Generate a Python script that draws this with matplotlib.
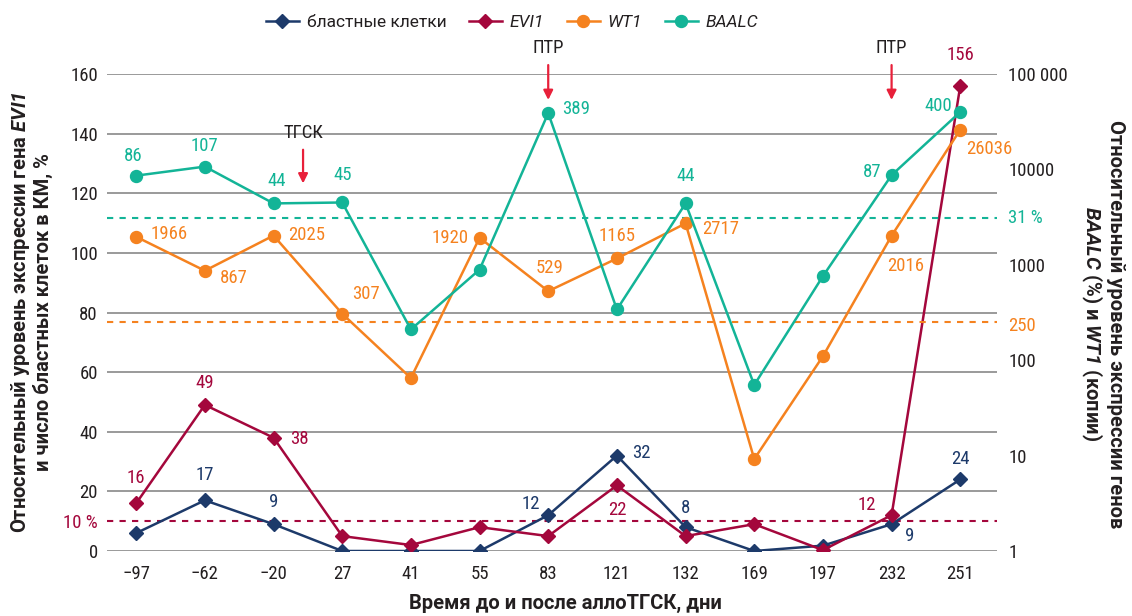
import matplotlib
matplotlib.use("Agg")
import matplotlib.pyplot as plt
from matplotlib import font_manager
from matplotlib.lines import Line2D

# ---- data -------------------------------------------------------------
days = ["\u221297", "\u221262", "\u221220", "27", "41", "55", "83", "121",
        "132", "169", "197", "232", "251"]
blasts = [6, 17, 9, 0, 0, 0, 12, 32, 8, 0, 1.8, 9, 24]
evi1 = [16, 49, 38, 5, 2, 8, 5, 22, 5, 9, 0.3, 12, 156]
wt1 = [1966, 867, 2025, 307, 65, 1920, 529, 1165, 2717, 9.2, 110, 2016, 26036]
baalc = [86, 107, 44, 45, 2.1, 8.9, 389, 3.4, 44, 0.55, 7.6, 87, 400]

evi1_threshold = 10
wt1_threshold = 250
baalc_threshold = 31

left_ticks = [0, 20, 40, 60, 80, 100, 120, 140, 160]
right_ticks = [1, 10, 100, 1000, 10000, 100000]
right_tick_labels = ["1", "10", "100", "1000", "10000", "100 000"]

# BAALC (%) is drawn on the copies axis scaled by 100
BAALC_SCALE = 100

# ---- style ------------------------------------------------------------
C_BLAST = "#1d3a6a"
C_EVI1 = "#a4073c"
C_WT1 = "#f5821f"
C_BAALC = "#13b497"
C_ARROW = "#e8203a"
C_TEXT = "#231f20"
C_GRID = "#7f7f7f"

available = {f.name for f in font_manager.fontManager.ttflist}
TEXT_FONT = next((f for f in ["Roboto", "Liberation Sans"] if f in available), "DejaVu Sans")
NUM_FONT = next((f for f in ["Roboto Condensed", "Liberation Sans Narrow", "Roboto"]
                 if f in available), TEXT_FONT)
plt.rcParams["font.family"] = [NUM_FONT, "DejaVu Sans"]
plt.rcParams["mathtext.fontset"] = "custom"
plt.rcParams["mathtext.rm"] = TEXT_FONT
plt.rcParams["mathtext.it"] = f"{TEXT_FONT}:italic"
plt.rcParams["mathtext.bf"] = f"{TEXT_FONT}:bold"
try:
    plt.rcParams["mathtext.bfit"] = f"{TEXT_FONT}:italic:bold"
except KeyError:
    pass

FS = 13.5          # numbers and annotations
FS_TITLE = 14.5    # bold axis titles
FS_LEG = 12.5

fig = plt.figure(figsize=(11.32, 6.16), dpi=100)
ax = fig.add_axes([107 / 1132, 1 - 551 / 616, 890 / 1132, 477 / 616])
ax2 = ax.twinx()

x = list(range(len(days)))

ax.set_xlim(-0.425, len(days) - 1 + 0.535)
ax.set_ylim(0, 160)
ax2.set_yscale("log")
ax2.set_ylim(1, 1e5)

for a in (ax, ax2):
    for s in a.spines.values():
        s.set_visible(False)

for t in left_ticks:
    ax.axhline(t, color=C_GRID, lw=1.1, zorder=0)

ax.set_yticks(left_ticks)
ax.set_xticks(x)
ax.set_xticklabels(days)
ax.tick_params(axis="both", length=0, labelsize=FS, colors=C_TEXT, pad=10)
ax.tick_params(axis="y", pad=6.5)
ax2.set_yticks(right_ticks)
ax2.set_yticklabels(right_tick_labels)
ax2.yaxis.set_minor_locator(matplotlib.ticker.NullLocator())
ax2.tick_params(axis="y", length=0, labelsize=FS, colors=C_TEXT, pad=8)

# thresholds
ax.axhline(evi1_threshold, color=C_EVI1, lw=1.5, ls=(0, (3, 3)), zorder=1)
ax2.axhline(wt1_threshold, color=C_WT1, lw=1.5, ls=(0, (3, 3)), zorder=1)
ax2.axhline(baalc_threshold * BAALC_SCALE, color=C_BAALC, lw=1.5, ls=(0, (3, 3)), zorder=1)

# series
lw = 1.8
ax.plot(x, blasts, color=C_BLAST, lw=lw, marker="D", ms=6.8, zorder=3)
ax.plot(x, evi1, color=C_EVI1, lw=lw, marker="D", ms=6.8, zorder=4)
baalc_plot = [v * BAALC_SCALE for v in baalc]
ax2.plot(x, wt1, color=C_WT1, lw=lw, marker="o", ms=8.6, zorder=3)
ax2.plot(x, baalc_plot, color=C_BAALC, lw=lw, marker="o", ms=8.6, zorder=4)


def lab(axis, i, val, text, color, dx, dy, ha="center"):
    axis.annotate(text, (i, val), xytext=(dx, dy), textcoords="offset points",
                  ha=ha, va="center", color=color, fontsize=FS, zorder=6)


# BAALC labels
lab(ax2, 0, baalc_plot[0], "86", C_BAALC, -2, 14.5)
lab(ax2, 1, baalc_plot[1], "107", C_BAALC, 0, 14.5)
lab(ax2, 2, baalc_plot[2], "44", C_BAALC, 2, 16)
lab(ax2, 3, baalc_plot[3], "45", C_BAALC, 0, 20)
lab(ax2, 6, baalc_plot[6], "389", C_BAALC, 10, 3, ha="left")
lab(ax2, 8, baalc_plot[8], "44", C_BAALC, 0, 20)
lab(ax2, 11, baalc_plot[11], "87", C_BAALC, -7.5, 2.5, ha="right")
lab(ax2, 12, baalc_plot[12], "400", C_BAALC, -6, 4, ha="right")

# WT1 labels
lab(ax2, 0, wt1[0], "1966", C_WT1, 10.3, 2, ha="left")
lab(ax2, 1, wt1[1], "867", C_WT1, 10.8, -5.3, ha="left")
lab(ax2, 2, wt1[2], "2025", C_WT1, 10.8, 0.7, ha="left")
lab(ax2, 3, wt1[3], "307", C_WT1, 7, 14, ha="left")
lab(ax2, 5, wt1[5], "1920", C_WT1, -8, 0, ha="right")
lab(ax2, 6, wt1[6], "529", C_WT1, 1, 16.5)
lab(ax2, 7, wt1[7], "1165", C_WT1, 0, 16)
lab(ax2, 8, wt1[8], "2717", C_WT1, 12, -4, ha="left")
lab(ax2, 11, wt1[11], "2016", C_WT1, -3, -21.5, ha="left")
lab(ax2, 12, wt1[12], "26036", C_WT1, 4.3, -13.7, ha="left")

# EVI1 labels
lab(ax, 0, evi1[0], "16", C_EVI1, 0, 18)
lab(ax, 1, evi1[1], "49", C_EVI1, 0, 15.6)
lab(ax, 2, evi1[2], "38", C_EVI1, 12, -1, ha="left")
lab(ax, 7, evi1[7], "22", C_EVI1, 0, -17.5)
lab(ax, 11, evi1[11], "12", C_EVI1, -11, 7.5, ha="right")
lab(ax, 12, evi1[12], "156", C_EVI1, 0, 22)

# blast labels
lab(ax, 1, blasts[1], "17", C_BLAST, 0, 18)
lab(ax, 2, blasts[2], "9", C_BLAST, 0, 16)
lab(ax, 6, blasts[6], "12", C_BLAST, -6, 8, ha="right")
lab(ax, 7, blasts[7], "32", C_BLAST, 10.8, 1.7, ha="left")
lab(ax, 8, blasts[8], "8", C_BLAST, 0, 13.7)
lab(ax, 11, blasts[11], "9", C_BLAST, 9.8, -8.4, ha="left")
lab(ax, 12, blasts[12], "24", C_BLAST, 0, 14.4)

# threshold captions
ax.annotate("10 %", (0, evi1_threshold), xycoords=("axes fraction", "data"),
            xytext=(-6.5, -1), textcoords="offset points", ha="right", va="center",
            color=C_EVI1, fontsize=FS)
ax2.annotate("250", (1, wt1_threshold), xycoords=("axes fraction", "data"),
             xytext=(8, -3), textcoords="offset points", ha="left", va="center",
             color=C_WT1, fontsize=FS)
ax2.annotate("31 %", (1, baalc_threshold * BAALC_SCALE),
             xycoords=("axes fraction", "data"),
             xytext=(8, 0), textcoords="offset points", ha="left", va="center",
             color=C_BAALC, fontsize=FS)


# treatment markers
def event(xpos, text, y_text, y_tip, y_tail):
    ax.annotate("", xy=(xpos, y_tip), xytext=(xpos, y_tail),
                arrowprops=dict(arrowstyle="-|>", color=C_ARROW, lw=1.6,
                                mutation_scale=14, shrinkA=0, shrinkB=0),
                annotation_clip=False, zorder=5)
    ax.text(xpos, y_text, text, ha="center", va="center", fontsize=FS,
            color=C_TEXT, clip_on=False)


# transplant on day 0 lies between days -20 and 27
event(2.43, "ТГСК", 140.3, 123.3, 134.6)
event(6, "ПТР", 168.8, 151.3, 163)
event(11, "ПТР", 168.8, 151.3, 163)

# axis titles
fig.text(565 / 1132, 1 - 603 / 616, "Время до и после аллоТГСК, дни",
         ha="center", va="center", fontsize=FS_TITLE, fontweight="bold",
         color=C_TEXT, family=TEXT_FONT)
fig.text(31 / 1132, 1 - 312 / 616,
         "Относительный уровень экспрессии гена $\\mathbfit{EVI1}$\n"
         "и число бластных клеток в КМ, %",
         rotation=90, ha="center", va="center", multialignment="center",
         fontsize=FS_TITLE, fontweight="bold", color=C_TEXT, linespacing=1.05,
         family=TEXT_FONT)
fig.text(1102 / 1132, 1 - 324 / 616,
         "Относительный уровень экспрессии генов\n"
         "$\\mathbfit{BAALC}$ (%) и $\\mathbfit{WT1}$ (копии)",
         rotation=270, ha="center", va="center", multialignment="center",
         fontsize=FS_TITLE, fontweight="bold", color=C_TEXT, linespacing=1.05,
         family=TEXT_FONT)

# legend
handles = [
    Line2D([], [], color=C_BLAST, lw=lw, marker="D", ms=6.8),
    Line2D([], [], color=C_EVI1, lw=lw, marker="D", ms=6.8),
    Line2D([], [], color=C_WT1, lw=lw, marker="o", ms=8.6),
    Line2D([], [], color=C_BAALC, lw=lw, marker="o", ms=8.6),
]
labels = ["бластные клетки", "EVI1", "WT1", "BAALC"]
leg = fig.legend(handles, labels, loc="center", bbox_to_anchor=(512 / 1132, 1 - 22 / 616),
                 ncol=4, frameon=False, prop={"family": TEXT_FONT, "size": FS_LEG},
                 handlelength=1.9, handletextpad=0.45, columnspacing=1.3)
for t in leg.get_texts()[1:]:
    t.set_fontstyle("italic")
for t in leg.get_texts():
    t.set_color(C_TEXT)

fig.savefig("out.png", dpi=100)
